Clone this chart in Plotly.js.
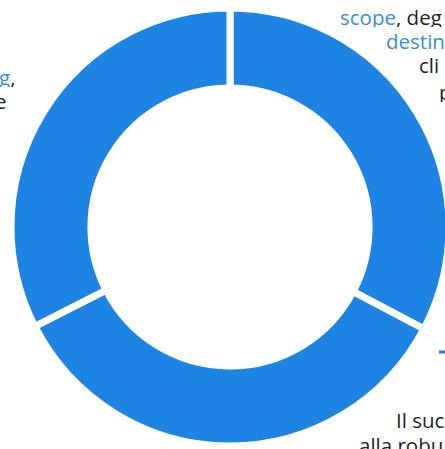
<!DOCTYPE html>
<html>
<head>
<meta charset="utf-8">
<script src="https://cdn.plot.ly/plotly-3.0.1.min.js"></script>
<style>
html,body{margin:0;padding:0;overflow:hidden;background:#fff;}
#chart{width:460px;height:460px;}
</style>
</head>
<body>
<div id="chart"></div>
<script>
// Data
const sliceLabels = ["A", "B", "C"];
const sliceValues = [32.7, 34.8, 32.5];

const blue = "#1E84E4";
const textBlue = "#3A8CDA";
const textDark = "#1f1f1f";

// Pixel -> paper helpers (plot area: x 11..449, y 8..446)
const L = 11, T = 8, S = 438;
const px = x => (x - L) / S;
const py = y => 1 - (y - T) / S;

const labelLines = [
  {x: 338, y: 16, text: '<span style="color:' + textBlue + '">scope</span>, deg'},
  {x: 384, y: 41, text: '<span style="color:' + textBlue + '">destin</span>'},
  {x: 417, y: 64, text: 'cli'},
  {x: 437, y: 91, text: 'p'},
  {x: 17, y: 76, text: '<span style="color:' + textBlue + '">g</span>,', anchor: 'right'},
  {x: 9, y: 101, text: 'e', anchor: 'right'},
  {x: 394, y: 419, text: 'Il suc'},
  {x: 357, y: 444, text: 'alla robu'}
];

const annotations = labelLines.map(l => ({
  xref: 'paper', yref: 'paper',
  x: px(l.x), y: py(l.y),
  xanchor: l.anchor || 'left', yanchor: 'middle',
  height: 21,
  text: l.text, showarrow: false,
  font: {family: 'Open Sans', size: 20.5, color: textDark}
}));

const data = [{
  type: 'pie',
  labels: sliceLabels,
  values: sliceValues,
  hole: 0.635,
  sort: false,
  direction: 'clockwise',
  rotation: 0,
  textinfo: 'none',
  hoverinfo: 'none',
  marker: {colors: [blue, blue, blue], line: {color: '#ffffff', width: 7}},
  showlegend: false
}];

const layout = {
  width: 460, height: 460,
  margin: {l: 11, r: 11, t: 8, b: 14},
  paper_bgcolor: '#ffffff',
  showlegend: false,
  annotations: annotations,
  shapes: [{
    type: 'line', xref: 'paper', yref: 'paper',
    x0: px(439), x1: px(452), y0: py(352), y1: py(352),
    line: {color: blue, width: 3}
  }]
};

Plotly.newPlot('chart', data, layout, {displayModeBar: false, staticPlot: true});
</script>
</body>
</html>
